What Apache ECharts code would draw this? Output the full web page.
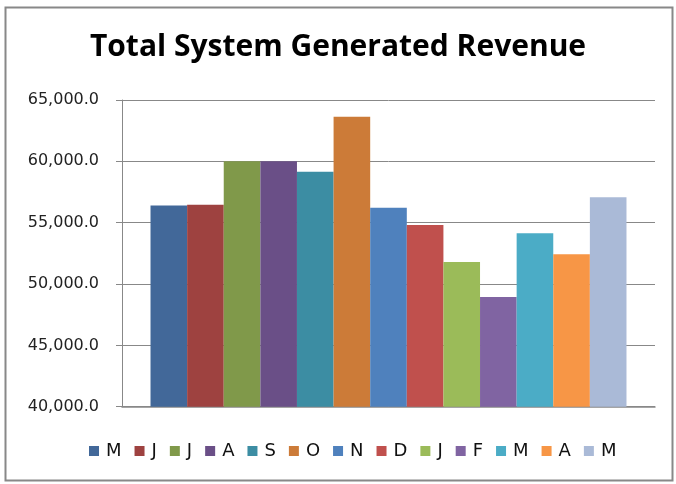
<!DOCTYPE html>
<html><head><meta charset="utf-8">
<script src="https://cdn.jsdelivr.net/npm/echarts@6/dist/echarts.min.js"></script>
<style>html,body{margin:0;padding:0;background:#fff}#c{width:676px;height:484px}</style>
</head><body><div id="c"></div>
<script>
const seriesNames = ['M','J','J','A','S','O','N','D','J','F','M','A','M'];
const seriesValues = [56400, 56460, 60000, 60000, 59150, 63640, 56220, 54810, 51790, 48940, 54130, 52420, 57070];
const seriesColors = ['#426899','#9E4240','#80994A','#6A4F87','#3C8DA3','#CC7B38','#4F81BD','#C0504D','#9BBB59','#8064A2','#4BACC6','#F79646','#AABAD7'];
const yTicks = [40000, 45000, 50000, 55000, 60000, 65000];
const category = ['Revenue'];

const chart = echarts.init(document.getElementById('c'), null, {renderer:'canvas'});
const series = seriesNames.map((n,i)=>({
  name: n + '\u200B'.repeat(i),
  type:'bar',
  data:[seriesValues[i]],
  barGap:'0%',
  barCategoryGap:'10.7%',
  itemStyle:{color:seriesColors[i]}
}));
chart.setOption({
  animation:false,
  title:{text:'Total System Generated Revenue',left:'center',top:27,
    textStyle:{fontFamily:'Open Sans',fontWeight:'bold',fontSize:30,color:'#000'}},
  graphic:[{type:'rect',shape:{x:5.5,y:7.5,width:667,height:473},style:{fill:'none',stroke:'#888',lineWidth:2},silent:true}],
  grid:{left:122,right:21,top:100,bottom:77.3,containLabel:false},
  legend:{top:437,left:84,itemWidth:10,itemHeight:10,itemGap:13,icon:'rect',
    formatter:n=>n.replace(/\u200B/g,''),
    textStyle:{fontFamily:'DejaVu Sans',fontSize:18,color:'#111',padding:[0,0,0,2]}},
  xAxis:{type:'category',data:category,axisLabel:{show:false},axisTick:{show:false},
    axisLine:{lineStyle:{color:'#888',width:1.5}}},
  yAxis:{type:'value',min:yTicks[0],max:yTicks[yTicks.length-1],interval:5000,
    axisLine:{show:true,lineStyle:{color:'#888'}},
    axisTick:{show:true,length:6,inside:false,lineStyle:{color:'#888'}},
    splitLine:{lineStyle:{color:'#888'}},
    axisLabel:{fontFamily:'DejaVu Sans',fontSize:16,color:'#222',margin:23,
      formatter:v=>v.toLocaleString('en-US',{minimumFractionDigits:1,maximumFractionDigits:1})}},
  series
});
</script></body></html>
